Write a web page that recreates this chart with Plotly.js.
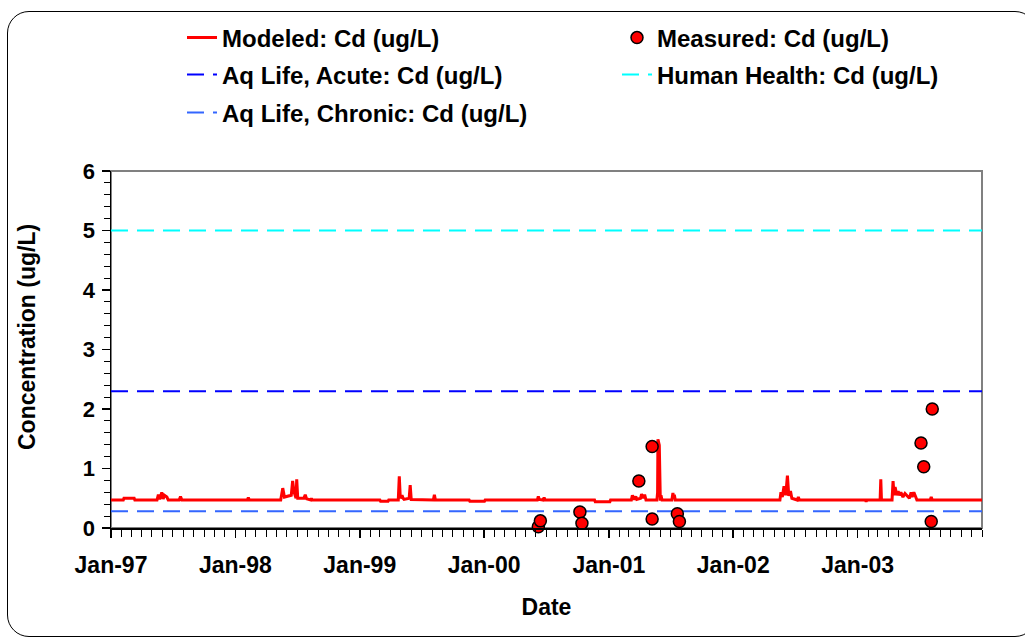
<!DOCTYPE html>
<html>
<head>
<meta charset="utf-8">
<script src="https://cdn.plot.ly/plotly-3.0.1.min.js"></script>
<style>
html,body{margin:0;padding:0;background:#fff;}
#chart{position:absolute;left:0;top:0;width:1025px;height:641px;}
#frame{position:absolute;left:7px;top:11px;width:1030px;height:626px;border:1.5px solid #000;border-radius:22px;pointer-events:none;box-sizing:border-box;}
</style>
</head>
<body>
<div id="chart"></div>
<div id="frame"></div>
<script>
// ---- Data ----
var seriesNames = ['Modeled: Cd (ug/L)', 'Measured: Cd (ug/L)', 'Aq Life, Acute: Cd (ug/L)', 'Human Health: Cd (ug/L)', 'Aq Life, Chronic: Cd (ug/L)'];
var xTitle = 'Date';
var yTitle = 'Concentration (ug/L)';

var modeledDates = [
  '1997-01-01','1997-02-06','1997-02-08','1997-03-10','1997-03-12',
  '1997-05-16','1997-05-20','1997-05-24','1997-05-30','1997-06-03','1997-06-07','1997-06-14','1997-06-18','1997-07-20','1997-07-24','1997-07-28',
  '1998-02-05','1998-02-08','1998-02-11',
  '1998-05-14','1998-05-20','1998-05-25','1998-06-14','1998-06-18','1998-06-22','1998-06-28','1998-06-30','1998-07-03','1998-07-21','1998-07-25','1998-07-29','1998-08-10','1998-08-12','1998-08-14',
  '1999-03-01','1999-03-03','1999-03-25','1999-03-27',
  '1999-04-24','1999-04-27','1999-04-30','1999-05-05','1999-05-08','1999-05-11','1999-05-26','1999-05-29','1999-06-01','1999-08-05','1999-08-08','1999-08-11',
  '1999-11-18','1999-11-20','2000-01-02','2000-01-04',
  '2000-06-05','2000-06-08','2000-06-11','2000-06-22','2000-06-25','2000-06-28',
  '2000-11-20','2000-11-22','2001-01-04','2001-01-06',
  '2001-03-08','2001-03-11','2001-03-16','2001-03-21','2001-03-24','2001-04-04','2001-04-07','2001-04-12','2001-04-16','2001-04-20',
  '2001-05-22','2001-05-24','2001-05-25','2001-05-29','2001-06-01','2001-06-03','2001-06-06',
  '2001-07-05','2001-07-08','2001-07-10','2001-07-12','2001-07-15',
  '2002-05-18','2002-05-21','2002-05-25','2002-05-30','2002-06-04','2002-06-09','2002-06-13','2002-06-18','2002-06-22','2002-07-08','2002-07-11','2002-07-14',
  '2003-01-24','2003-01-26','2003-01-28',
  '2003-03-08','2003-03-10','2003-03-12',
  '2003-04-12','2003-04-15','2003-04-18','2003-04-21','2003-04-26','2003-04-30','2003-05-04','2003-05-08','2003-05-14','2003-05-20','2003-06-02','2003-06-07','2003-06-10','2003-06-15','2003-06-20','2003-06-24',
  '2003-08-02','2003-08-05','2003-08-08',
  '2004-01-01'
];
var modeledValues = [
  0.47,0.47,0.50,0.50,0.47,
  0.47,0.56,0.48,0.60,0.49,0.55,0.52,0.47,0.47,0.53,0.47,
  0.47,0.51,0.47,
  0.47,0.67,0.52,0.55,0.79,0.61,0.50,0.82,0.50,0.50,0.56,0.49,0.47,0.50,0.47,
  0.47,0.45,0.45,0.47,
  0.47,0.87,0.50,0.55,0.50,0.48,0.50,0.72,0.48,0.47,0.56,0.47,
  0.47,0.45,0.45,0.47,
  0.47,0.53,0.48,0.47,0.51,0.47,
  0.47,0.44,0.44,0.47,
  0.47,0.55,0.48,0.53,0.48,0.50,0.57,0.50,0.56,0.47,
  0.47,0.60,1.49,1.39,0.46,0.55,0.47,
  0.47,0.59,0.50,0.56,0.47,
  0.47,0.60,0.52,0.70,0.55,0.88,0.54,0.62,0.50,0.47,0.52,0.47,
  0.47,0.44,0.47,
  0.47,0.82,0.47,
  0.47,0.79,0.55,0.69,0.55,0.62,0.55,0.60,0.52,0.58,0.50,0.60,0.52,0.60,0.53,0.47,
  0.47,0.52,0.47,
  0.47
];

var measuredDates = ['2000-06-08','2000-06-14','2000-10-08','2000-10-14','2001-03-30','2001-05-08','2001-05-08','2001-07-21','2001-07-27','2003-07-06','2003-07-14','2003-08-05','2003-08-08'];
var measuredValues = [0.02, 0.12, 0.27, 0.08, 0.79, 1.37, 0.15, 0.24, 0.11, 1.43, 1.03, 0.11, 2.00];

var limitDates = ['1997-01-01', '2004-01-01'];
var acuteValues = [2.30, 2.30];
var humanHealthValues = [5.00, 5.00];
var chronicValues = [0.28, 0.28];

var yTickValues = [0, 1, 2, 3, 4, 5, 6];
var xTickValues = ['1997-01-01','1998-01-01','1999-01-01','2000-01-01','2001-01-01','2002-01-01','2003-01-01'];

// ---- Styling ----
var FONT = 'Liberation Sans, Arial, sans-serif';
function legendAt(px, py) {
  return {
    xref: 'container', yref: 'container',
    x: px / 1025, y: 1 - py / 641, xanchor: 'left', yanchor: 'middle',
    bgcolor: 'rgba(0,0,0,0)', borderwidth: 0,
    font: {family: FONT, size: 24, color: '#000', weight: 'bold'},
    itemwidth: 30
  };
}
var DASH = '17px,9px';

var traces = [
  {x: limitDates, y: acuteValues, name: seriesNames[2], type: 'scatter', mode: 'lines',
   line: {color: '#0000ff', width: 2, dash: DASH}, legend: 'legend3'},
  {x: limitDates, y: humanHealthValues, name: seriesNames[3], type: 'scatter', mode: 'lines',
   line: {color: '#00ffff', width: 2, dash: DASH}, legend: 'legend4'},
  {x: limitDates, y: chronicValues, name: seriesNames[4], type: 'scatter', mode: 'lines',
   line: {color: '#3366ff', width: 2, dash: DASH}, legend: 'legend5'},
  {x: modeledDates, y: modeledValues, name: seriesNames[0], type: 'scatter', mode: 'lines',
   line: {color: '#ff0000', width: 3}, legend: 'legend'},
  {x: measuredDates, y: measuredValues, name: seriesNames[1], type: 'scatter', mode: 'markers',
   cliponaxis: false,
   marker: {color: '#ff0000', size: 12, line: {color: '#000', width: 1.5}}, legend: 'legend2'}
];

var layout = {
  width: 1025, height: 641,
  margin: {l: 111, r: 43, t: 171, b: 113, autoexpand: false},
  paper_bgcolor: '#fff', plot_bgcolor: '#fff',
  font: {family: FONT, color: '#000', weight: 'bold'},
  showlegend: true,
  legend: legendAt(182, 38),
  legend2: legendAt(617, 38),
  legend3: legendAt(182, 75),
  legend4: legendAt(617, 75),
  legend5: legendAt(182, 113),
  xaxis: {
    type: 'date', range: ['1997-01-01', '2004-01-01'],
    tickvals: xTickValues, tickformat: '%b-%y', tickangle: 0,
    ticks: 'outside', ticklen: 8, tickwidth: 1.5, tickcolor: '#000', ticklabelstandoff: 8,
    minor: {dtick: 'M1', tick0: '1997-01-01', ticks: 'outside', ticklen: 7, tickwidth: 1, tickcolor: '#000', showgrid: false},
    showline: true, linecolor: '#000', linewidth: 1.5, showgrid: false, zeroline: false,
    tickfont: {family: FONT, size: 23, color: '#000', weight: 'bold'},
    title: {text: xTitle, font: {family: FONT, size: 23, color: '#000', weight: 'bold'}, standoff: 22}
  },
  yaxis: {
    range: [0, 6], tickvals: yTickValues,
    ticks: 'outside', ticklen: 8, tickwidth: 1.5, tickcolor: '#000', ticklabelstandoff: 2,
    minor: {dtick: 0.2, tick0: 0, ticks: 'outside', ticklen: 6, tickwidth: 1, tickcolor: '#000', showgrid: false},
    showline: true, linecolor: '#000', linewidth: 1.5, showgrid: false, zeroline: false,
    tickfont: {family: FONT, size: 22, color: '#000', weight: 'bold'}
  },
  annotations: [
    {text: yTitle, xref: 'paper', yref: 'paper', x: (27 - 111) / 871, y: (528 - 337) / 357,
     xanchor: 'center', yanchor: 'middle', textangle: -90, showarrow: false,
     font: {family: FONT, size: 23, color: '#000', weight: 'bold'}}
  ],
  shapes: [
    {type: 'rect', xref: 'paper', yref: 'paper', x0: 0, x1: 1, y0: 0, y1: 1,
     line: {color: '#808080', width: 2}, layer: 'below'}
  ]
};

Plotly.newPlot('chart', traces, layout, {displayModeBar: false, staticPlot: true});
</script>
</body>
</html>
